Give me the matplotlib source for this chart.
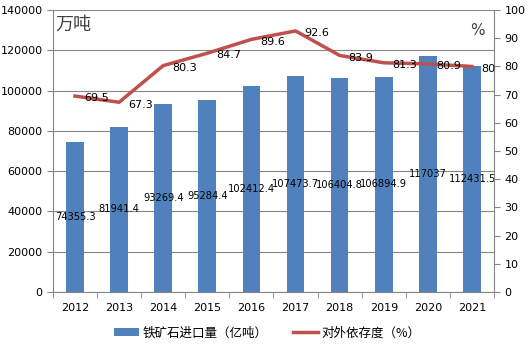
import numpy as np
import matplotlib.pyplot as plt

plt.rcParams['font.family'] = ['DejaVu Sans', 'Noto Sans CJK SC']

# data
years = ['2012', '2013', '2014', '2015', '2016', '2017', '2018', '2019', '2020', '2021']
imports = [74355.3, 81941.4, 93269.4, 95284.4, 102412.4, 107473.7, 106404.8, 106894.9, 117037, 112431.5]
import_labels = ['74355.3', '81941.4', '93269.4', '95284.4', '102412.4', '107473.7',
                 '106404.8', '106894.9', '117037', '112431.5']
dependence = [69.5, 67.3, 80.3, 84.7, 89.6, 92.6, 83.9, 81.3, 80.9, 80]
dep_labels = ['69.5', '67.3', '80.3', '84.7', '89.6', '92.6', '83.9', '81.3', '80.9', '80']

blue = '#4F81BD'
red = '#C0504D'
grey = '#868686'

fig = plt.figure(figsize=(5.29, 3.47), dpi=100)
ax = fig.add_axes([0.100, 0.1585, 0.834, 0.8125])
x = np.arange(len(years))

ax.bar(x, imports, width=0.4, color=blue, zorder=2, label='铁矿石进口量（亿吨）')
ax.set_xlim(-0.5, len(years) - 0.5)
ax.set_ylim(0, 140000)
ax.set_yticks(np.arange(0, 140001, 20000))
ax.yaxis.grid(True, color=grey, linewidth=0.8, zorder=0)
ax.set_xticks(x)
ax.set_xticklabels(years)
ax.set_xticks(np.arange(-0.5, len(years), 1), minor=True)
ax.tick_params(axis='x', which='major', length=0, pad=8, labelsize=8)
ax.tick_params(axis='x', which='minor', length=4, color=grey, direction='out')
ax.tick_params(axis='y', length=4, color=grey, labelsize=8)
for s in ['top', 'right']:
    ax.spines[s].set_visible(False)
for s in ['left', 'bottom']:
    ax.spines[s].set_color(grey)

# bar value labels sit in the middle of each bar
for xi, v, lab in zip(x, imports, import_labels):
    ax.text(xi, v / 2, lab, ha='center', va='center', fontsize=7.1, zorder=5)

ax2 = ax.twinx()
ax2.set_ylim(0, 100)
ax2.set_yticks(np.arange(0, 101, 10))
ax2.plot(x, dependence, color=red, linewidth=2.5, zorder=3, label='对外依存度（%）')
ax2.tick_params(axis='y', length=4, color=grey, labelsize=8)
for s in ['top', 'left', 'bottom']:
    ax2.spines[s].set_visible(False)
ax2.spines['right'].set_color(grey)

for xi, v, lab in zip(x, dependence, dep_labels):
    ax2.text(xi + 0.2, v - 0.8, lab, ha='left', va='center', fontsize=8, zorder=5)

ax.text(0.005, 0.98, '万吨', transform=ax.transAxes, ha='left', va='top',
        fontsize=13, color='#404040', family=['Noto Sans CJK SC'])
ax.text(0.978, 0.955, '%', transform=ax.transAxes, ha='right', va='top',
        fontsize=11, color='#404040')

h1, l1 = ax.get_legend_handles_labels()
h2, l2 = ax2.get_legend_handles_labels()
fig.legend(h1 + h2, l1 + l2, loc='lower center', bbox_to_anchor=(0.505, -0.01), ncol=2,
           frameon=False, handlelength=2.0, handleheight=0.6, handletextpad=0.3,
           columnspacing=2.0, prop={'family': ['Noto Sans CJK SC'], 'size': 9})

fig.savefig('out.png', dpi=100)
